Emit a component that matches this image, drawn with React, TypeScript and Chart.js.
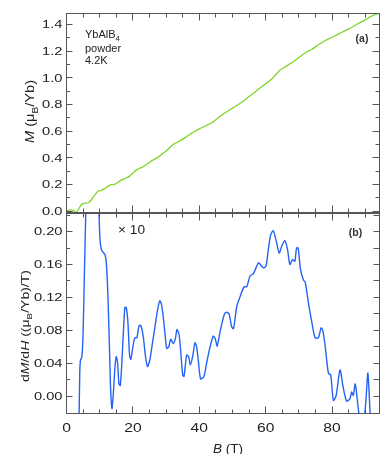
import React, { useEffect, useRef } from "react";
import { Chart, registerables } from "chart.js";

Chart.register(...registerables);

// ---------- data ----------
// (a) magnetization M (muB/Yb) vs field B (T)
const FIELD_M = [
  0, 1, 2, 3, 4, 4.5, 5.5, 6.5, 7.5, 8.5,
  9.5, 10.5, 11.5, 12.5, 13.5, 14.5, 15.5, 16.5, 18, 19,
  20, 21, 22, 23, 24, 25, 26, 28, 30, 32,
  34, 36, 38, 40, 42, 44, 46, 48, 50, 52,
  54, 56, 58, 60, 62, 64, 66, 68, 70, 72,
  74, 76, 78, 80, 82, 84, 86, 88, 90, 92,
  94.3,
];
const MAGNETIZATION = [
  0.0, 0.008, 0.005, -0.008, 0.03, 0.05, 0.058, 0.062, 0.085, 0.12,
  0.148, 0.155, 0.168, 0.185, 0.198, 0.2, 0.215, 0.232, 0.248, 0.262,
  0.285, 0.307, 0.32, 0.332, 0.348, 0.365, 0.382, 0.412, 0.45, 0.497,
  0.525, 0.555, 0.59, 0.617, 0.64, 0.666, 0.706, 0.742, 0.773, 0.803,
  0.84, 0.878, 0.918, 0.955, 0.995, 1.05, 1.085, 1.115, 1.152, 1.188,
  1.215, 1.25, 1.28, 1.305, 1.33, 1.355, 1.38, 1.41, 1.435, 1.465,
  1.485,
];

// (b) dM/dH ((muB/Yb)/T) vs field B (T), shown x10
const FIELD_D = [
  3.4, 3.8, 4.0, 4.2, 4.4, 4.7, 5.0, 5.4, 5.8, 6.3,
  9.3, 9.8, 10.1, 10.5, 10.8, 11.2, 11.6, 12.0, 12.5, 13.0,
  13.3, 13.7, 14.1, 14.6, 15.0, 15.4, 15.8, 16.2, 16.6, 17.1,
  17.6, 18.0, 18.5, 19.0, 19.4, 20.0, 20.6, 21.2, 21.9, 22.5,
  23.2, 23.8, 24.4, 25.1, 25.8, 26.6, 27.4, 28.1, 28.6, 29.1,
  29.7, 30.2, 30.8, 31.4, 32.2, 32.8, 33.3, 33.9, 34.4, 35.0,
  35.4, 36.2, 36.8, 37.3, 38.0, 38.7, 39.2, 39.8, 40.4, 41.4,
  42.2, 43.2, 44.2, 44.8, 45.4, 46.2, 47.5, 48.2, 49.0, 49.7,
  50.3, 51.3, 52.3, 53.5, 54.3, 55.3, 56.3, 57.8, 58.4, 59.3,
  60.1, 60.8, 61.5, 62.3, 63.1, 64.1, 64.8, 65.8, 66.6, 67.3,
  68.1, 68.8, 69.3, 69.8, 70.5, 71.4, 71.9, 72.9, 73.9, 74.9,
  75.9, 76.7, 77.2, 77.9, 78.9, 79.6, 80.4, 81.2, 82.4, 83.3,
  84.4, 85.4, 85.9, 86.4, 87.0, 87.6, 88.1, 89.0, 89.9, 90.3,
  90.8, 91.5, 92.0,
];
const DMDH = [
  -0.06, -0.02, 0.03, 0.044, 0.045, 0.05, 0.077, 0.15, 0.222, 0.32,
  0.3, 0.222, 0.19, 0.178, 0.176, 0.174, 0.172, 0.162, 0.12, 0.05,
  0.008, -0.015, 0.003, 0.035, 0.048, 0.04, 0.015, 0.013, 0.035, 0.075,
  0.108, 0.108, 0.09, 0.05, 0.045, 0.06, 0.071, 0.071, 0.086, 0.085,
  0.07, 0.048, 0.036, 0.044, 0.062, 0.083, 0.104, 0.116, 0.112, 0.098,
  0.075, 0.058, 0.06, 0.069, 0.064, 0.07, 0.081, 0.075, 0.055, 0.026,
  0.024, 0.05, 0.048, 0.038, 0.048, 0.065, 0.06, 0.04, 0.021, 0.024,
  0.04, 0.059, 0.073, 0.07, 0.061, 0.077, 0.099, 0.102, 0.1, 0.085,
  0.082, 0.109, 0.121, 0.133, 0.133, 0.146, 0.149, 0.162, 0.16, 0.156,
  0.158, 0.178, 0.196, 0.201, 0.19, 0.174, 0.182, 0.189, 0.178, 0.16,
  0.166, 0.164, 0.18, 0.18, 0.154, 0.141, 0.139, 0.113, 0.09, 0.071,
  0.071, 0.083, 0.08, 0.062, 0.028, 0.026, -0.005, 0.0, 0.032, 0.012,
  -0.006, -0.003, 0.005, 0.001, 0.015, -0.004, -0.022, -0.05, -0.02, 0.0,
  0.028, -0.022, -0.05,
];

// tick labels
const X_TICK_LABELS = [0, 20, 40, 60, 80];
const M_TICK_LABELS = [0, 0.2, 0.4, 0.6, 0.8, 1.0, 1.2, 1.4];
const D_TICK_LABELS = [0, 0.04, 0.08, 0.12, 0.16, 0.2];

// ---------- layout / style ----------
const W = 386;
const H = 454;
const LEFT = 66.5;
const RIGHT = 379.5;
const TOP_A = 13.5;
const BOT_A = 212.5;
const TOP_B = 213.5;
const BOT_B = 413.5;
const AXIS = "#555";
const TEXT = "#222";
const FONT = '"Liberation Sans", Arial, Helvetica, sans-serif';

type Seg = { t: string; i?: boolean; b?: boolean; sub?: boolean };
type TextOpts = {
  x: number;
  y: number;
  size: number;
  align?: "left" | "center" | "right";
  rotate?: boolean;
  sx?: number;
  width?: number;
  vcenter?: boolean;
  color?: string;
};

function drawRich(ctx: CanvasRenderingContext2D, segs: Seg[], o: TextOpts) {
  const size = o.size;
  const fontFor = (s: Seg) =>
    `${s.i ? "italic " : ""}${s.b ? "bold " : ""}${s.sub ? size * 0.7 : size}px ${FONT}`;
  ctx.save();
  const widths = segs.map((s) => {
    ctx.font = fontFor(s);
    return ctx.measureText(s.t).width;
  });
  const total = widths.reduce((a, b) => a + b, 0);
  const sx = o.width ? o.width / total : o.sx ?? 1;
  ctx.translate(o.x, o.y);
  if (o.rotate) ctx.rotate(-Math.PI / 2);
  ctx.scale(sx, 1);
  const align = o.align ?? "left";
  let cx = align === "left" ? 0 : align === "center" ? -total / 2 : -total;
  const base = o.vcenter ? size * 0.36 : 0;
  ctx.textAlign = "left";
  ctx.textBaseline = "alphabetic";
  ctx.fillStyle = o.color ?? TEXT;
  segs.forEach((s, k) => {
    ctx.font = fontFor(s);
    ctx.fillText(s.t, cx, base + (s.sub ? size * 0.28 : 0));
    cx += widths[k];
  });
  ctx.restore();
}

function steps(a: number, b: number, s: number): number[] {
  const out: number[] = [];
  const n = Math.round((b - a) / s);
  for (let k = 0; k <= n; k++) out.push(+(a + k * s).toFixed(6));
  return out;
}

const crisp = (v: number) => Math.round(v - 0.5) + 0.5;

function xTicks(ctx: CanvasRenderingContext2D, scale: any, yLine: number, dir: number) {
  ctx.beginPath();
  steps(0, 90, 5).forEach((v) => {
    const major = Math.abs(v % 20) < 1e-6;
    const len = major ? 7 : 4;
    const px = crisp(scale.getPixelForValue(v));
    ctx.moveTo(px, yLine);
    ctx.lineTo(px, yLine + dir * len);
  });
  ctx.stroke();
}

function yTicks(
  ctx: CanvasRenderingContext2D,
  scale: any,
  values: number[],
  isMajor: (v: number) => boolean,
  xLine: number,
  dir: number,
  majorLen: number,
  minorLen: number
) {
  ctx.beginPath();
  values.forEach((v) => {
    const py = crisp(scale.getPixelForValue(v));
    const len = isMajor(v) ? majorLen : minorLen;
    ctx.moveTo(xLine, py);
    ctx.lineTo(xLine + dir * len, py);
  });
  ctx.stroke();
}

const nearMult = (v: number, m: number) => {
  const r = Math.abs(v / m - Math.round(v / m));
  return r < 1e-4;
};

const topDeco = {
  id: "topDeco",
  afterDraw(chart: any) {
    const ctx: CanvasRenderingContext2D = chart.ctx;
    const a = chart.chartArea;
    const xs = chart.scales.x;
    const ys = chart.scales.y;
    ctx.save();
    ctx.strokeStyle = AXIS;
    ctx.lineWidth = 1;
    ctx.strokeRect(crisp(a.left), crisp(a.top), Math.round(a.right - a.left), Math.round(a.bottom - a.top));
    xTicks(ctx, xs, crisp(a.top), 1);
    xTicks(ctx, xs, crisp(a.bottom), -1);
    const mv = steps(0, 1.4, 0.1);
    yTicks(ctx, ys, mv, (v) => nearMult(v, 0.2), crisp(a.left), 1, 6, 3.5);
    yTicks(ctx, ys, mv, (v) => nearMult(v, 0.2), crisp(a.right), -1, 7, 4);
    ctx.restore();

    M_TICK_LABELS.forEach((v) => {
      drawRich(ctx, [{ t: v.toFixed(1) }], {
        x: 62.5, y: ys.getPixelForValue(v), size: 10.5, align: "right", sx: 1.4, vcenter: true,
      });
    });

    drawRich(ctx, [{ t: "M", i: true }, { t: " (\u03bc" }, { t: "B", sub: true }, { t: "/Yb)" }], {
      x: 30, y: 111.5, size: 12, align: "center", rotate: true, width: 63, vcenter: true,
    });
    drawRich(ctx, [{ t: "YbAlB" }, { t: "4", sub: true }], { x: 85, y: 38.3, size: 11 });
    drawRich(ctx, [{ t: "powder" }], { x: 85, y: 51.5, size: 11 });
    drawRich(ctx, [{ t: "4.2K" }], { x: 85, y: 64.3, size: 11 });
    drawRich(ctx, [{ t: "(a)", b: true }], { x: 362, y: 38, size: 10.5, align: "center", vcenter: true, color: "#333" });
  },
};

const bottomDeco = {
  id: "bottomDeco",
  afterDraw(chart: any) {
    const ctx: CanvasRenderingContext2D = chart.ctx;
    const a = chart.chartArea;
    const xs = chart.scales.x;
    const ys = chart.scales.y;
    ctx.save();
    ctx.strokeStyle = AXIS;
    ctx.lineWidth = 1;
    ctx.strokeRect(crisp(a.left), crisp(a.top), Math.round(a.right - a.left), Math.round(a.bottom - a.top));
    xTicks(ctx, xs, crisp(a.top), 1);
    xTicks(ctx, xs, crisp(a.bottom), -1);
    const dv = steps(0, 0.22, 0.02);
    yTicks(ctx, ys, dv, (v) => nearMult(v, 0.04), crisp(a.left), 1, 6, 3.5);
    yTicks(ctx, ys, dv, () => true, crisp(a.right), -1, 6, 6);
    ctx.restore();

    D_TICK_LABELS.forEach((v) => {
      drawRich(ctx, [{ t: v.toFixed(2) }], {
        x: 62.5, y: ys.getPixelForValue(v), size: 10.5, align: "right", sx: 1.4, vcenter: true,
      });
    });
    X_TICK_LABELS.forEach((v) => {
      drawRich(ctx, [{ t: String(v) }], {
        x: xs.getPixelForValue(v), y: 427.5, size: 12.5, align: "center", sx: 1.25, vcenter: true,
      });
    });

    drawRich(
      ctx,
      [
        { t: "d" }, { t: "M", i: true }, { t: "/d" }, { t: "H", i: true },
        { t: " ((\u03bc" }, { t: "B", sub: true }, { t: "/Yb)/T)" },
      ],
      { x: 24.5, y: 326, size: 11.5, align: "center", rotate: true, width: 112, vcenter: true }
    );
    drawRich(ctx, [{ t: "B", i: true }, { t: " (T)" }], {
      x: 228, y: 448, size: 12.5, align: "center", width: 30, vcenter: true,
    });
    drawRich(ctx, [{ t: "\u00d7 10" }], { x: 118, y: 230, size: 12, width: 27, vcenter: true });
    drawRich(ctx, [{ t: "(b)", b: true }], { x: 355.5, y: 232.5, size: 10.5, align: "center", vcenter: true, color: "#333" });
  },
};

function makeConfig(
  xsArr: number[],
  ysArr: number[],
  color: string,
  width: number,
  yMin: number,
  yMax: number,
  top: number,
  bottom: number,
  deco: any
): any {
  return {
    type: "line",
    data: {
      datasets: [
        {
          data: xsArr.map((x, k) => ({ x, y: ysArr[k] })),
          borderColor: color,
          borderWidth: width,
          pointRadius: 0,
          tension: 0.25,
          fill: false,
          clip: 0,
        },
      ],
    },
    options: {
      animation: false,
      responsive: false,
      devicePixelRatio: 1,
      events: [],
      layout: { padding: { left: LEFT, right: W - RIGHT, top, bottom: H - bottom } },
      plugins: { legend: { display: false }, tooltip: { enabled: false } },
      scales: {
        x: { type: "linear", min: 0, max: 94.3, display: false },
        y: { type: "linear", min: yMin, max: yMax, display: false },
      },
    },
    plugins: [deco],
  };
}

export default function App() {
  const topRef = useRef<HTMLCanvasElement | null>(null);
  const botRef = useRef<HTMLCanvasElement | null>(null);

  useEffect(() => {
    if (!topRef.current || !botRef.current) return;
    const c1 = new Chart(
      topRef.current,
      makeConfig(FIELD_M, MAGNETIZATION, "#80d42a", 1.3, -0.011, 1.483, TOP_A, BOT_A, topDeco)
    );
    const c2 = new Chart(
      botRef.current,
      makeConfig(FIELD_D, DMDH, "#2563f5", 1.4, -0.021, 0.222, TOP_B, BOT_B, bottomDeco)
    );
    return () => {
      c1.destroy();
      c2.destroy();
    };
  }, []);

  const cs: React.CSSProperties = { position: "absolute", left: 0, top: 0, width: W, height: H, display: "block" };
  return (
    <div style={{ position: "absolute", left: 0, top: 0, width: W, height: H, background: "#fff" }}>
      <canvas ref={botRef} width={W} height={H} style={cs} />
      <canvas ref={topRef} width={W} height={H} style={cs} />
    </div>
  );
}
